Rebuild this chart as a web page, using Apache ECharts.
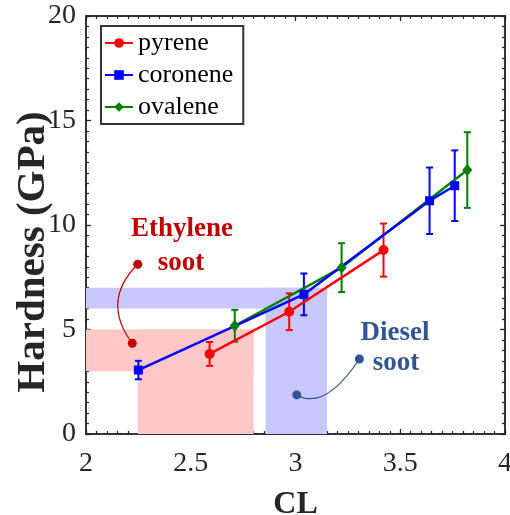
<!DOCTYPE html>
<html>
<head>
<meta charset="utf-8">
<script src="https://cdn.jsdelivr.net/npm/echarts@6/dist/echarts.min.js"></script>
<style>
  html, body { margin: 0; padding: 0; background: #fff; }
  #chart { width: 510px; height: 515px; }
</style>
</head>
<body>
<div id="chart"></div>
<script>
// [CL, hardness, error]
var pyrene = [[2.59, 3.83, 0.57], [2.97, 5.85, 0.88], [3.42, 8.80, 1.27]];
var coronene = [[2.25, 3.06, 0.44], [3.04, 6.68, 1.00], [3.64, 11.16, 1.59], [3.76, 11.88, 1.69]];
var ovalene = [[2.71, 5.18, 0.76], [3.22, 7.96, 1.17], [3.82, 12.63, 1.81]];

// shaded ranges [x1, y1, x2, y2]
var ethyleneBoxes = [[2.0, 3, 2.8, 5], [2.247, 0, 2.8, 5]];
var dieselBoxes = [[2.0, 6, 3.15, 7], [2.857, 0, 3.15, 7]];

// annotation: [dot1 x, y, dot2 x, y, curve control x, y]
var ethyleneNote = [[2.247, 8.12, 2.221, 4.34, 2.07, 6.35]];
var dieselNote = [[3.305, 3.59, 3.006, 1.87, 3.14, 1.10]];
var ethyleneText = [[2.458, 9.80, 'Ethylene'], [2.453, 8.18, 'soot']];
var dieselText = [[3.475, 4.83, 'Diesel'], [3.48, 3.40, 'soot']];

var FONT = '"Liberation Serif", "Times New Roman", serif';
var AXIS = '#262626';

function boxAreas(boxes) {
  return boxes.map(function (b) {
    return [{ coord: [b[0], b[1]] }, { coord: [b[2], b[3]] }];
  });
}

function errorBars(color) {
  return function (params, api) {
    var x = api.value(0), y = api.value(1), e = api.value(2);
    var top = api.coord([x, y + e]);
    var bot = api.coord([x, y - e]);
    var w = 3.5;
    var st = { stroke: color, lineWidth: 2 };
    return {
      type: 'group',
      children: [
        { type: 'line', shape: { x1: top[0], y1: top[1], x2: bot[0], y2: bot[1] }, style: st },
        { type: 'line', shape: { x1: top[0] - w, y1: top[1], x2: top[0] + w, y2: top[1] }, style: st },
        { type: 'line', shape: { x1: bot[0] - w, y1: bot[1], x2: bot[0] + w, y2: bot[1] }, style: st }
      ]
    };
  };
}

function noteCurve(color) {
  return function (params, api) {
    var p1 = api.coord([api.value(0), api.value(1)]);
    var p2 = api.coord([api.value(2), api.value(3)]);
    var c = api.coord([api.value(4), api.value(5)]);
    return {
      type: 'group',
      children: [
        { type: 'bezierCurve', shape: { x1: p1[0], y1: p1[1], x2: p2[0], y2: p2[1], cpx1: c[0], cpy1: c[1] },
          style: { stroke: color, lineWidth: 1.2, fill: null } },
        { type: 'circle', shape: { cx: p1[0], cy: p1[1], r: 4.5 }, style: { fill: color } },
        { type: 'circle', shape: { cx: p2[0], cy: p2[1], r: 4.5 }, style: { fill: color } }
      ]
    };
  };
}

function textSeries(list, color) {
  return {
    type: 'custom',
    name: 'text',
    silent: true,
    z: 5,
    data: list.map(function (t) { return [t[0], t[1]]; }),
    renderItem: function (params, api) {
      var p = api.coord([api.value(0), api.value(1)]);
      return {
        type: 'text',
        x: p[0], y: p[1],
        style: {
          text: list[params.dataIndex][2],
          fill: color, font: 'bold 27px ' + FONT,
          align: 'center', verticalAlign: 'middle'
        }
      };
    }
  };
}

function lineSeries(name, data, color, symbol, size) {
  return {
    name: name,
    type: 'line',
    data: data.map(function (d) { return [d[0], d[1]]; }),
    symbol: symbol,
    symbolSize: size,
    showAllSymbol: true,
    lineStyle: { color: color, width: 2.5 },
    itemStyle: { color: color },
    z: 4
  };
}

function errSeries(data, color) {
  return {
    name: 'err',
    type: 'custom',
    data: data,
    renderItem: errorBars(color),
    z: 3,
    silent: true
  };
}

// one axis (major or minor ticks only) for a side of the box
function tickAxis(pos, min, max, step, len, extra) {
  return Object.assign({
    type: 'value',
    position: pos, min: min, max: max, interval: step,
    axisLine: { show: true, onZero: false, lineStyle: { color: AXIS, width: 1.5 } },
    axisTick: { show: true, inside: true, length: len, interval: 0, lineStyle: { color: AXIS, width: 1.2 } },
    axisLabel: { show: false },
    splitLine: { show: false }
  }, extra || {});
}

var chart = echarts.init(document.getElementById('chart'));

var option = {
  animation: false,
  backgroundColor: '#fff',
  grid: { left: 86, right: 5, top: 16, bottom: 81, containLabel: false, outerBoundsMode: 'none' },
  legend: {
    data: ['pyrene', 'coronene', 'ovalene'],
    orient: 'vertical',
    left: 101,
    top: 26,
    backgroundColor: '#fff',
    borderColor: '#333',
    borderWidth: 2,
    padding: [4, 10, 4, 3],
    itemWidth: 28,
    itemHeight: 12,
    itemGap: 6,
    textStyle: { fontFamily: FONT, fontSize: 26, color: '#000', lineHeight: 26 }
  },
  xAxis: [
    tickAxis('bottom', 2, 4, 0.5, 5, {
      name: 'CL', nameLocation: 'middle', nameGap: 55, nameMoveOverlap: false,
      nameTextStyle: { fontFamily: FONT, fontSize: 32, fontWeight: 'bold', color: AXIS },
      axisLabel: { show: true, fontFamily: FONT, fontSize: 28, color: AXIS, margin: 16 }
    }),
    tickAxis('top', 2, 4, 0.5, 5),
    tickAxis('bottom', 2, 4, 0.05, 3),
    tickAxis('top', 2, 4, 0.05, 3)
  ],
  yAxis: [
    tickAxis('left', 0, 20, 5, 5, {
      name: 'Hardness (GPa)', nameLocation: 'middle', nameGap: 32, nameMoveOverlap: false,
      nameTextStyle: { fontFamily: FONT, fontSize: 41, fontWeight: 'bold', color: AXIS, padding: [0, 54, 0, 0] },
      axisLabel: { show: true, fontFamily: FONT, fontSize: 28, color: AXIS, margin: 10 }
    }),
    tickAxis('right', 0, 20, 5, 5),
    tickAxis('left', 0, 20, 0.5, 3),
    tickAxis('right', 0, 20, 0.5, 3)
  ],
  series: [
    {
      name: 'areas', type: 'line', data: [], silent: true, z: 1,
      markArea: {
        silent: true,
        itemStyle: { color: 'rgb(255,200,200)' },
        data: boxAreas(ethyleneBoxes)
      }
    },
    {
      name: 'areas2', type: 'line', data: [], silent: true, z: 1,
      markArea: {
        silent: true,
        itemStyle: { color: 'rgb(200,200,255)' },
        data: boxAreas(dieselBoxes)
      }
    },
    errSeries(pyrene, '#ff0000'),
    lineSeries('pyrene', pyrene, '#ff0000', 'circle', 10),
    errSeries(ovalene, '#008000'),
    lineSeries('ovalene', ovalene, '#008000', 'diamond', [10, 12]),
    errSeries(coronene, '#0000ff'),
    lineSeries('coronene', coronene, '#0000ff', 'rect', 9),
    { name: 'note1', type: 'custom', silent: true, z: 5, data: ethyleneNote, renderItem: noteCurve('#c00000') },
    { name: 'note2', type: 'custom', silent: true, z: 5, data: dieselNote, renderItem: noteCurve('#2f5597') },
    textSeries(ethyleneText, '#c00000'),
    textSeries(dieselText, '#2f5597')
  ]
};

chart.setOption(option);
</script>
</body>
</html>
